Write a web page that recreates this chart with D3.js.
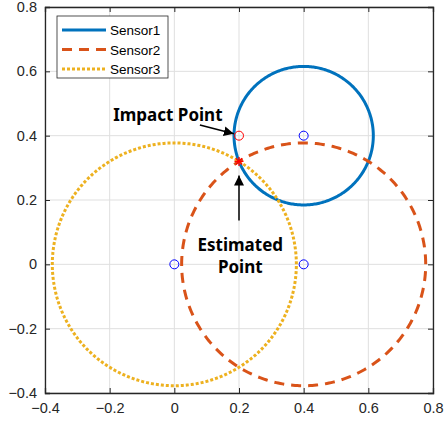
<!DOCTYPE html>
<html>
<head>
<meta charset="utf-8">
<script src="https://cdn.jsdelivr.net/npm/d3@7"></script>
<style>
  body { margin: 0; background: #fff; }
  svg text { font-family: "Liberation Sans", Arial, sans-serif; }
</style>
</head>
<body>
<svg id="chart" width="448" height="423"></svg>
<script>
// sensor positions and measured ranges
const sensorNames = ['Sensor1', 'Sensor2', 'Sensor3'];
const sensorX = [0.4, 0.4, 0.0];
const sensorY = [0.4, 0.0, 0.0];
const sensorRadius = [0.2154, 0.3774, 0.3774];
const impactPoint = [0.2, 0.4];
const estimatedPoint = [0.2, 0.32];
const xTicks = [-0.4, -0.2, 0, 0.2, 0.4, 0.6, 0.8];
const yTicks = [-0.4, -0.2, 0, 0.2, 0.4, 0.6, 0.8];

const colors = ['#0072BD', '#D95319', '#EDB120'];
const dashes = [null, '10,7', '3,2'];

const margin = { top: 7, right: 15, bottom: 30, left: 45 };
const width = 448 - margin.left - margin.right;
const height = 423 - margin.top - margin.bottom;

const svg = d3.select('#chart');
const g = svg.append('g').attr('transform', `translate(${margin.left},${margin.top})`);

const x = d3.scaleLinear().domain([-0.4, 0.8]).range([0, width]);
const y = d3.scaleLinear().domain([-0.4, 0.8]).range([height, 0]);

// grid
g.append('g').selectAll('line').data(xTicks).join('line')
  .attr('x1', d => x(d)).attr('x2', d => x(d)).attr('y1', 0).attr('y2', height)
  .attr('stroke', '#dfdfdf').attr('stroke-width', 1);
g.append('g').selectAll('line').data(yTicks).join('line')
  .attr('y1', d => y(d)).attr('y2', d => y(d)).attr('x1', 0).attr('x2', width)
  .attr('stroke', '#dfdfdf').attr('stroke-width', 1);

// circles
const circleLine = d3.line().x(d => x(d[0])).y(d => y(d[1]));
sensorNames.forEach((name, i) => {
  const pts = d3.range(0, 361).map(a => {
    const t = a * Math.PI / 180;
    return [sensorX[i] + sensorRadius[i] * Math.cos(t), sensorY[i] + sensorRadius[i] * Math.sin(t)];
  });
  g.append('path')
    .attr('d', circleLine(pts))
    .attr('fill', 'none')
    .attr('stroke', colors[i])
    .attr('stroke-width', 3)
    .attr('stroke-dasharray', dashes[i]);
});

// sensor markers
g.append('g').selectAll('circle').data(sensorX).join('circle')
  .attr('cx', d => x(d)).attr('cy', (d, i) => y(sensorY[i])).attr('r', 4.5)
  .attr('fill', 'none').attr('stroke', '#0000FF').attr('stroke-width', 1);

// impact point
g.append('circle')
  .attr('cx', x(impactPoint[0])).attr('cy', y(impactPoint[1])).attr('r', 4.5)
  .attr('fill', 'none').attr('stroke', '#FF0000').attr('stroke-width', 1);

// estimated point (asterisk)
const star = g.append('g').attr('transform', `translate(${x(estimatedPoint[0])},${y(estimatedPoint[1])})`)
  .attr('stroke', '#FF0000').attr('stroke-width', 1.3);
[0, 45, 90, 135].forEach(a => {
  const t = a * Math.PI / 180;
  star.append('line')
    .attr('x1', -4.5 * Math.cos(t)).attr('y1', -4.5 * Math.sin(t))
    .attr('x2', 4.5 * Math.cos(t)).attr('y2', 4.5 * Math.sin(t));
});

// arrows
svg.append('defs').append('marker')
  .attr('id', 'head').attr('viewBox', '0 0 10 10').attr('refX', 10).attr('refY', 5)
  .attr('markerWidth', 10).attr('markerHeight', 10).attr('markerUnits', 'userSpaceOnUse')
  .attr('orient', 'auto')
  .append('path').attr('d', 'M0,0 L10,5 L0,10 Z').attr('fill', '#000');

g.append('line')
  .attr('x1', x(0.079)).attr('y1', y(0.433)).attr('x2', x(0.184)).attr('y2', y(0.406))
  .attr('stroke', '#000').attr('stroke-width', 1.5).attr('marker-end', 'url(#head)');
g.append('line')
  .attr('x1', x(0.2)).attr('y1', y(0.136)).attr('x2', x(0.2)).attr('y2', y(0.276))
  .attr('stroke', '#000').attr('stroke-width', 1.5).attr('marker-end', 'url(#head)');

// annotation text
const annFont = '"Noto Sans", sans-serif';
g.append('text').attr('x', x(-0.02)).attr('y', y(0.445))
  .attr('text-anchor', 'middle').style('font-weight', 'bold').style('font-size', '17px')
  .style('font-family', annFont).attr('fill', '#000').text('Impact Point');
const est = g.append('text').attr('text-anchor', 'middle').style('font-weight', 'bold')
  .style('font-size', '17px').style('font-family', annFont).attr('fill', '#000');
est.append('tspan').attr('x', x(0.204)).attr('y', y(0.04)).text('Estimated');
est.append('tspan').attr('x', x(0.204)).attr('y', y(-0.028)).text('Point');

// axes with inward ticks
const xAxis = g.append('g').attr('transform', `translate(0,${height})`)
  .call(d3.axisBottom(x).tickValues(xTicks).tickSize(-5).tickPadding(10).tickFormat(d3.format('')));
const xTop = g.append('g')
  .call(d3.axisTop(x).tickValues(xTicks).tickSize(-5).tickFormat(''));
const yAxis = g.append('g')
  .call(d3.axisLeft(y).tickValues(yTicks).tickSize(-5).tickPadding(8).tickFormat(d3.format('')));
const yRight = g.append('g').attr('transform', `translate(${width},0)`)
  .call(d3.axisRight(y).tickValues(yTicks).tickSize(-5).tickFormat(''));

[xAxis, xTop, yAxis, yRight].forEach(a => {
  a.attr('font-size', null).attr('font-family', null);
  a.select('.domain').attr('stroke', '#262626').attr('stroke-width', 1.3);
  a.selectAll('.tick line').attr('stroke', '#262626');
  a.selectAll('.tick text').attr('fill', '#262626')
    .style('font-size', '14.5px').style('font-family', '"Liberation Sans", Arial, sans-serif');
});

// legend
const lg = g.append('g').attr('transform', 'translate(12,9)');
lg.append('rect').attr('width', 111).attr('height', 62)
  .attr('fill', '#fff').attr('stroke', '#262626').attr('stroke-width', 0.8);
sensorNames.forEach((name, i) => {
  const yy = 14 + i * 19.5;
  lg.append('line').attr('x1', 5).attr('x2', 49).attr('y1', yy).attr('y2', yy)
    .attr('stroke', colors[i]).attr('stroke-width', 3).attr('stroke-dasharray', dashes[i]);
  lg.append('text').attr('x', 53).attr('y', yy + 5).style('font-size', '13.5px')
    .attr('fill', '#000').text(name);
});
</script>
</body>
</html>
